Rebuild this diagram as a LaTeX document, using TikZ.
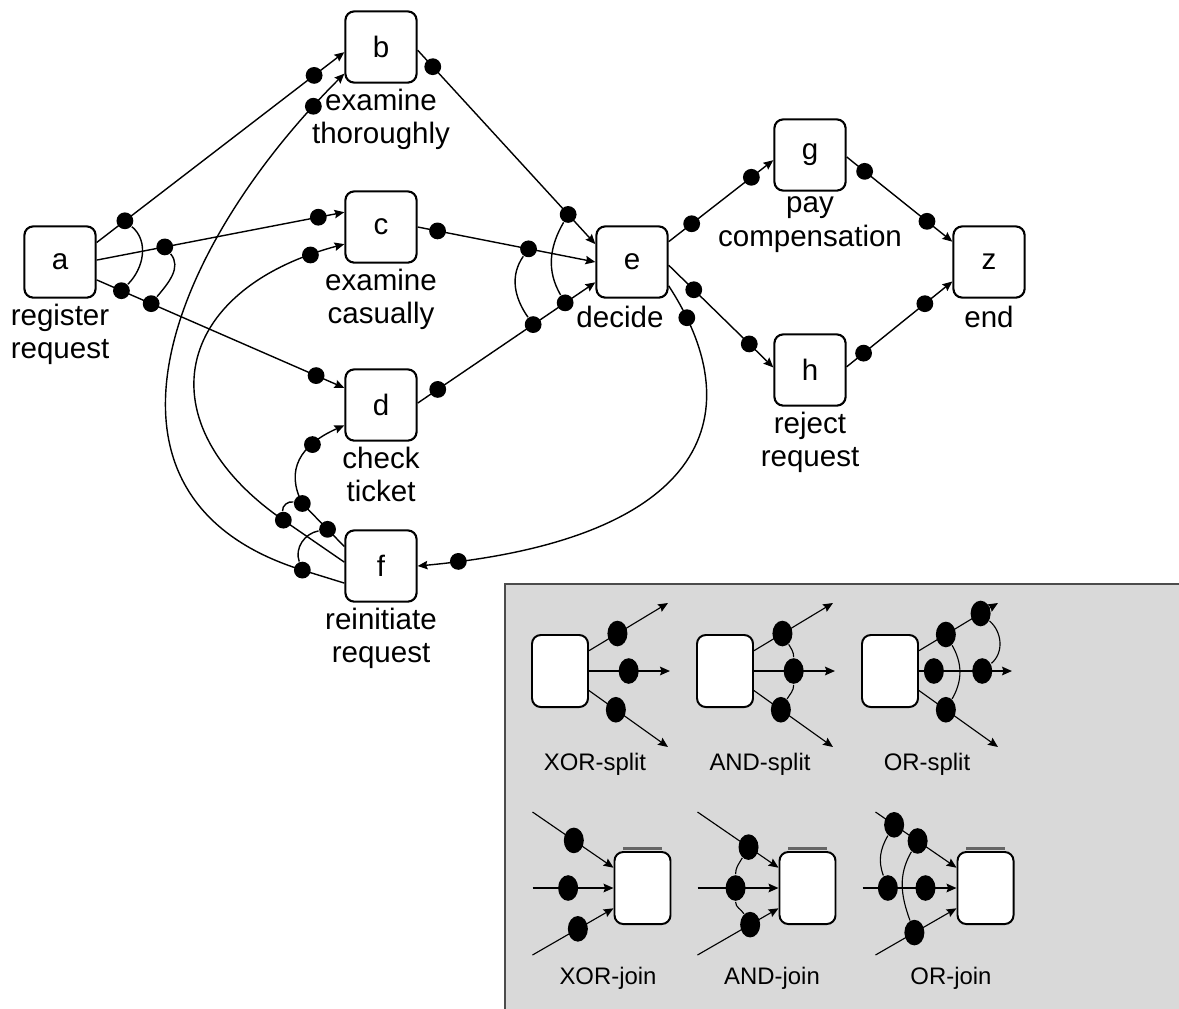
\documentclass[tikz,border=0pt]{standalone}
\usepackage{fontspec}
\setmainfont{Liberation Sans}
\usetikzlibrary{arrows.meta}
\usetikzlibrary{shapes.geometric}
\usetikzlibrary{positioning}
\tikzset{
	task/.style={draw, line width=1.5pt, rounded corners=0.22cm, minimum size=1.78cm, inner sep=0pt,
		font=\fontsize{21}{24}\selectfont},
	lbl/.style={align=center, inner sep=0pt, execute at begin node=\strut,
		font=\fontsize{21}{24}\selectfont},
	arc/.style={line width=1pt, -{Stealth[length=7pt,width=6pt,inset=1pt]}},
	bind/.style={line width=1pt},
	dot/.style={circle, fill=black, inner sep=0pt, minimum size=0.42cm},
	panel/.style={draw=black!70, line width=1.5pt, fill=black!15},
	lbox/.style={draw, fill=white, line width=1.4pt, rounded corners=0.22cm, minimum width=1.4cm,
		minimum height=1.8cm, inner sep=0pt},
	ldot/.style={ellipse, fill=black, inner sep=0pt, minimum width=0.5cm, minimum height=0.64cm},
	larc/.style={line width=0.8pt, -{Stealth[length=7pt,width=6pt,inset=1pt]}},
	lmid/.style={larc, line width=1.5pt},
	lbind/.style={line width=0.8pt},
	bar/.style={line width=2.5pt, black!60},
	llbl/.style={anchor=base, font=\fontsize{17}{20}\selectfont},
}

\begin{document}
\begin{tikzpicture}[x=0.025cm, y=-0.025cm]
	\useasboundingbox (0,0) rectangle (1179,1008);
	% Activities
	\node[task] (a) at (60,262) {a};
	\node[task] (b) at (381,47) {b};
	\node[task] (c) at (381,227) {c};
	\node[task] (d) at (381,405) {d};
	\node[task] (e) at (632,262) {e};
	\node[task] (f) at (381,566) {f};
	\node[task] (g) at (810,155) {g};
	\node[task] (h) at (810,370) {h};
	\node[task] (z) at (989,262) {z};
	% Labels
	\node[lbl, below=0.12cm of a] {register\\request};
	\node[lbl, below=0.12cm of b] {examine\\thoroughly};
	\node[lbl, below=0.12cm of c] {examine\\casually};
	\node[lbl, below=0.12cm of d] {check\\ticket};
	\node[lbl, below=0.12cm of e, xshift=-0.3cm] {decide};
	\node[lbl, below=0.12cm of f] {reinitiate\\request};
	\node[lbl, below=0.12cm of g] {pay\\compensation};
	\node[lbl, below=0.12cm of h] {reject\\request};
	\node[lbl, below=0.12cm of z] {end};
	% Out of a
	\draw[arc] (a.28) -- node[dot,pos=.114] (ab1) {} node[dot,pos=.878] (ab2) {} (b.188);
	\draw[arc] (a.3) -- node[dot,pos=.275] (ac1) {} node[dot,pos=.895] (ac2) {} (c.158);
	\draw[arc] (a.-26) -- node[dot,pos=.10] (ad1) {} node[dot,pos=.22] (ad2) {} node[dot,pos=.886] (ad3) {} (d.155);
	\draw[bind] (ab1) to[out=-40,in=45] (ad1);
	\draw[bind] (ac1) to[out=-50,in=50] (ad2);
	% Into e
	\draw[arc] (b.-5) -- node[dot,pos=.085] (be1) {} node[dot,pos=.847] (be2) {} (e.154);
	\draw[arc] (c.east) -- node[dot,pos=.112] (ce1) {} node[dot,pos=.624] (ce2) {} (e.west);
	\draw[arc] (d.3) -- node[dot,pos=.113] (de1) {} node[dot,pos=.65] (de2) {} node[dot,pos=.83] (de3) {} (e.209);
	\draw[bind] (be2) to[out=240,in=120] (de3);
	\draw[bind] (ce2) to[out=235,in=125] (de2);
	% Out of e
	\draw[arc] (e.29) -- node[dot,pos=.22] (eg1) {} node[dot,pos=.79] (eg2) {} (g.188);
	\draw[arc] (e.-5) -- node[dot,pos=.24] (eh1) {} node[dot,pos=.77] (eh2) {} (h.176);
	\draw[arc] (e.-33) .. controls (756,420) and (700,540) .. node[dot,pos=.08] (ef1) {} node[dot,pos=.95] (ef2) {} (f.east);
	% Into z
	\draw[arc] (g.-3) -- node[dot,pos=.17] (gz1) {} node[dot,pos=.76] (gz2) {} (z.151);
	\draw[arc] (h.5) -- node[dot,pos=.16] (hz1) {} node[dot,pos=.74] (hz2) {} (z.208);
	% Out of f
	\draw[arc] (f.205) -- node[dot,pos=1] (fb1) {} ++(-42,-13) .. controls (71,498) and (167,251) .. node[dot,pos=.94] (fb2) {} (b.216);
	\draw[arc] (f.174) -- node[dot,pos=1] (fc1) {} ++(-61,-42) .. controls (143,423) and (173,290) .. node[dot,pos=.93] (fc2) {} (c.205);
	\draw[arc] (f.152) -- node[dot,pos=.4] (fd1) {} node[dot,pos=1] (fd2) {} ++(-42,-43) .. controls (285,470) and (300,445) .. node[dot,pos=.7] (fd3) {} (d.209);
	\draw[bind] (fc1) to[out=95,in=170] (fd2);
	\draw[bind] (fd1) to[out=190,in=110] (fb1);

	% Legend
	\draw[panel] (505,584) rectangle (1200,1030);
	\foreach \n/\x/\m in {xs/560/110, as/725/110, os/890/122}{
		\node[lbox] (\n) at (\x,671) {};
		\coordinate (\n-t1) at (\x+108,603);
		\coordinate (\n-t2) at (\x+\m,671);
		\coordinate (\n-t3) at (\x+108,747);
	}
	\foreach \n/\x/\m in {xj/642.5/110, aj/807.5/110, oj/985.5/123}{
		\node[lbox] (\n) at (\x,888) {};
		\draw[bar] ([xshift=-0.48cm,yshift=0.06cm]\n.north) -- ([xshift=0.48cm,yshift=0.06cm]\n.north);
		\coordinate (\n-s1) at (\x-110,812);
		\coordinate (\n-s2) at (\x-\m,888);
		\coordinate (\n-s3) at (\x-110,955);
	}
	% XOR-split
	\draw[larc] (xs.35) -- node[ldot,pos=.36] (xs1) {} (xs-t1);
	\draw[lmid] (xs.east) -- node[ldot,pos=.49] (xs2) {} (xs-t2);
	\draw[larc] (xs.-34) -- node[ldot,pos=.34] (xs3) {} (xs-t3);
	\node[llbl] at (595,770) {XOR-split};
	% AND-split
	\draw[larc] (as.35) -- node[ldot,pos=.36] (as1) {} (as-t1);
	\draw[lmid] (as.east) -- node[ldot,pos=.49] (as2) {} (as-t2);
	\draw[larc] (as.-34) -- node[ldot,pos=.34] (as3) {} (as-t3);
	\draw[lbind] (as1) to[out=-60,in=90] (as2) to[out=-90,in=60] (as3);
	\node[llbl] at (760,770) {AND-split};
	% OR-split
	\draw[larc] (os.35) -- node[ldot,pos=.34] (os1) {} node[ldot,pos=.78] (os2) {} (os-t1);
	\draw[lmid] (os.east) -- node[ldot,pos=.16] (os3) {} node[ldot,pos=.68] (os4) {} (os-t2);
	\draw[larc] (os.-34) -- node[ldot,pos=.34] (os5) {} (os-t3);
	\draw[lbind] (os1) to[out=-60,in=60] (os5);
	\draw[lbind] (os2) to[out=-40,in=40] (os4);
	\node[llbl] at (927,770) {OR-split};
	% XOR-join
	\draw[larc] (xj-s1) -- node[ldot,pos=.51] (xj1) {} (xj.145);
	\draw[lmid] (xj-s2) -- node[ldot,pos=.44] (xj2) {} (xj.west);
	\draw[larc] (xj-s3) -- node[ldot,pos=.56] (xj3) {} (xj.215);
	\node[llbl] at (608,984) {XOR-join};
	% AND-join
	\draw[larc] (aj-s1) -- node[ldot,pos=.63] (aj1) {} (aj.145);
	\draw[lmid] (aj-s2) -- node[ldot,pos=.47] (aj2) {} (aj.west);
	\draw[larc] (aj-s3) -- node[ldot,pos=.65] (aj3) {} (aj.215);
	\draw[lbind] (aj1) to[out=240,in=90] (aj2) to[out=-90,in=120] (aj3);
	\node[llbl] at (772,984) {AND-join};
	% OR-join
	\draw[larc] (oj-s1) -- node[ldot,pos=.23] (oj1) {} node[ldot,pos=.52] (oj2) {} (oj.145);
	\draw[lmid] (oj-s2) -- node[ldot,pos=.27] (oj3) {} node[ldot,pos=.67] (oj4) {} (oj.west);
	\draw[larc] (oj-s3) -- node[ldot,pos=.48] (oj5) {} (oj.215);
	\draw[lbind] (oj1) to[out=240,in=110] (oj3);
	\draw[lbind] (oj2) to[out=240,in=110] (oj5);
	\node[llbl] at (951,984) {OR-join};
\end{tikzpicture}
\end{document}
